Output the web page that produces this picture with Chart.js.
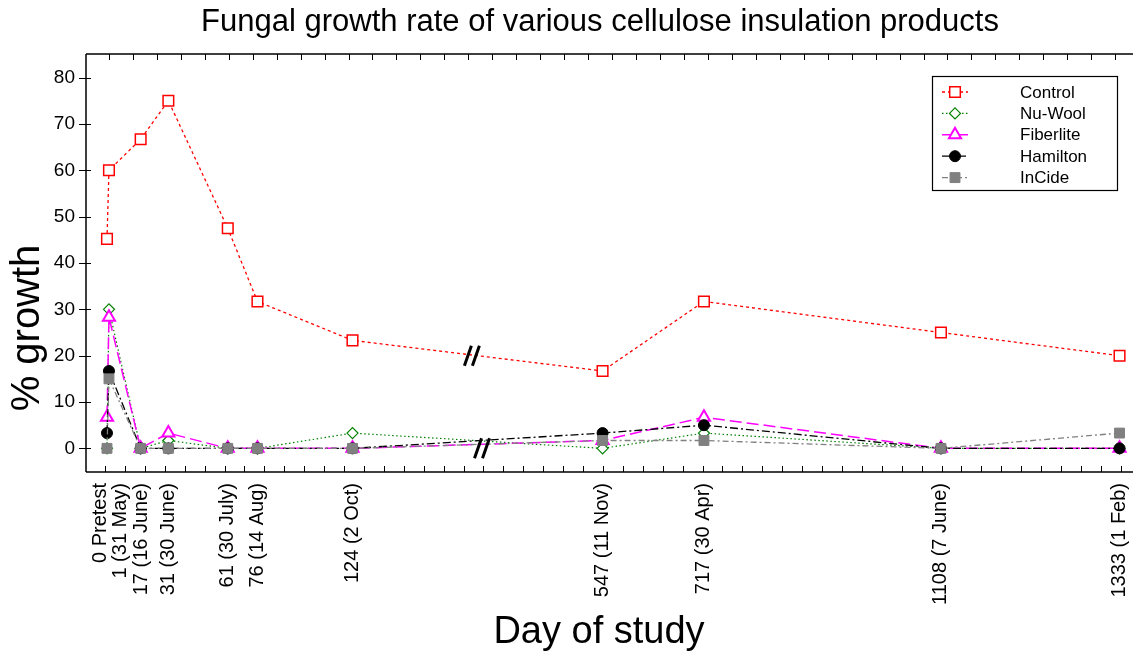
<!DOCTYPE html>
<html>
<head>
<meta charset="utf-8">
<script src="https://cdn.jsdelivr.net/npm/chart.js@4.4.1/dist/chart.umd.min.js"></script>
<style>
  body { margin: 0; background: #fff; }
  canvas { display: block; }
</style>
</head>
<body>
<canvas id="growthChart" width="1133" height="654"></canvas>
<script>
// Day of study labels
var dayLabels = ['0 Pretest', '1 (31 May)', '17 (16 June)', '31 (30 June)', '61 (30 July)', '76 (14 Aug)',
  '124 (2 Oct)', '547 (11 Nov)', '717 (30 Apr)', '1108 (7 June)', '1333 (1 Feb)'];
// where each day sits on the broken axis (true days up to 124, compressed after the break)
var dayPos = [0, 1, 17, 31, 61, 76, 124, 250.3, 301.5, 421.2, 511.4];
// label positions (the first two are pushed apart so they don't overlap)
var labelPos = [-3.5, 7, 17.6, 31, 61, 76, 124, 250.3, 301.5, 421.2, 511.4];
var yTicks = [0, 10, 20, 30, 40, 50, 60, 70, 80];

// % growth
var control = [45.2, 60, 66.7, 75, 47.5, 31.7, 23.3, 16.7, 31.7, 25, 20];
var nuWool = [0, 30, 0, 1.7, 0, 0, 3.3, 0, 3.3, 0, 0];
var fiberlite = [6.7, 28.3, 0, 3.3, 0, 0, 0, 1.7, 6.7, 0, 0];
var hamilton = [3.3, 16.7, 0, 0, 0, 0, 0, 3.3, 5, 0, 0];
var incide = [0, 15, 0, 0, 0, 0, 0, 1.7, 1.7, 0, 3.3];

// axis break marks (x on broken axis, y in %)
var breakX = [184.3, 189.4];
var breakY = [20, 0];

var FONT = '"Liberation Sans", Arial, Helvetica, sans-serif';

function toPoints(vals) {
  return dayPos.map(function (x, i) { return { x: x, y: vals[i] }; });
}

var decorPlugin = {
  id: 'decor',
  beforeDatasetsDraw: function (chart) {
    var ctx = chart.ctx, a = chart.chartArea;
    var xs = chart.scales.x, ys = chart.scales.y;
    ctx.save();
    ctx.strokeStyle = '#000';
    ctx.lineWidth = 1.5;
    ctx.beginPath();
    ctx.moveTo(a.left, a.top); ctx.lineTo(a.right, a.top);
    ctx.moveTo(a.left, a.top); ctx.lineTo(a.left, a.bottom);
    ctx.moveTo(a.left, a.bottom); ctx.lineTo(a.right, a.bottom);
    ctx.stroke();

    ctx.lineWidth = 1;
    ctx.beginPath();
    // minor ticks, bottom and top, pointing in
    for (var v = -1; v <= xs.max; v += 10.06) {
      var px = Math.round(xs.getPixelForValue(v)) + 0.5;
      ctx.moveTo(px, a.bottom); ctx.lineTo(px, a.bottom - 6);
    }
    for (var w = 1; w <= xs.max; w += 12.1) {
      var pt = Math.round(xs.getPixelForValue(w)) + 0.5;
      ctx.moveTo(pt, a.top); ctx.lineTo(pt, a.top + 6);
    }
    yTicks.forEach(function (t) {
      var py = Math.round(ys.getPixelForValue(t)) + 0.5;
      ctx.moveTo(a.left - 7, py); ctx.lineTo(a.left + 5, py);
    });
    ctx.stroke();
    ctx.restore();
  },
  afterDraw: function (chart) {
    var ctx = chart.ctx;
    var xs = chart.scales.x, ys = chart.scales.y;
    ctx.save();
    ctx.fillStyle = '#000';
    ctx.textBaseline = 'middle';
    ctx.textAlign = 'center';

    ctx.font = '31px ' + FONT;
    ctx.fillText('Fungal growth rate of various cellulose insulation products', 600, 22);

    ctx.font = '38px ' + FONT;
    ctx.fillText('Day of study', 599, 633);

    ctx.save();
    ctx.translate(28, 328);
    ctx.rotate(-Math.PI / 2);
    ctx.font = '40px ' + FONT;
    ctx.fillText('% growth', 0, 0);
    ctx.restore();

    // break marks
    ctx.strokeStyle = '#000';
    ctx.lineWidth = 3;
    ctx.beginPath();
    for (var i = 0; i < breakX.length; i++) {
      var bx = xs.getPixelForValue(breakX[i]);
      var by = ys.getPixelForValue(breakY[i]);
      [-4, 4].forEach(function (off) {
        ctx.moveTo(bx + off - 3.5, by + 10);
        ctx.lineTo(bx + off + 3.5, by - 10);
      });
    }
    ctx.stroke();

    // legend box
    var lx = 932, ly = 76;
    ctx.lineWidth = 1.2;
    ctx.strokeStyle = '#000';
    ctx.strokeRect(lx + 0.5, ly + 0.5, 185, 114);
    ctx.font = '17px ' + FONT;
    ctx.textAlign = 'left';
    chart.data.datasets.forEach(function (ds, k) {
      var ry = ly + 16 + k * 21.4;
      ctx.save();
      ctx.strokeStyle = ds.borderColor;
      ctx.lineWidth = ds.borderWidth;
      ctx.setLineDash(ds.borderDash);
      ctx.beginPath();
      ctx.moveTo(lx + 10, ry); ctx.lineTo(lx + 36, ry);
      ctx.stroke();
      ctx.setLineDash([]);
      ctx.fillStyle = ds.pointBackgroundColor;
      ctx.strokeStyle = ds.pointBorderColor;
      ctx.lineWidth = ds.pointBorderWidth;
      Chart.helpers.drawPoint(ctx, {
        pointStyle: ds.pointStyle, radius: ds.pointRadius,
        borderWidth: ds.pointBorderWidth, rotation: 0
      }, lx + 23, ry);
      ctx.restore();
      ctx.fillText(ds.label, lx + 88, ry + 1);
    });
    ctx.restore();
  }
};

new Chart(document.getElementById('growthChart'), {
  type: 'line',
  data: {
    datasets: [{
      label: 'Control',
      data: toPoints(control),
      borderColor: '#ff0000',
      borderWidth: 1.3,
      borderDash: [3, 3],
      pointStyle: 'rect',
      pointRadius: 7.5,
      pointBorderWidth: 1.5,
      pointBorderColor: '#ff0000',
      pointBackgroundColor: '#ffffff',
      order: 5
    }, {
      label: 'Nu-Wool',
      data: toPoints(nuWool),
      borderColor: '#008000',
      borderWidth: 1.2,
      borderDash: [1.5, 2.5],
      pointStyle: 'rectRot',
      pointRadius: 5.5,
      pointBorderWidth: 1.2,
      pointBorderColor: '#008000',
      pointBackgroundColor: '#ffffff',
      order: 4
    }, {
      label: 'Fiberlite',
      data: toPoints(fiberlite),
      borderColor: '#ff00ff',
      borderWidth: 1.5,
      borderDash: [12, 5],
      pointStyle: 'triangle',
      pointRadius: 7,
      pointBorderWidth: 2,
      pointBorderColor: '#ff00ff',
      pointBackgroundColor: '#ffffff',
      order: 3
    }, {
      label: 'Hamilton',
      data: toPoints(hamilton),
      borderColor: '#000000',
      borderWidth: 1.3,
      borderDash: [8, 3, 2, 3],
      pointStyle: 'circle',
      pointRadius: 5.5,
      pointBorderWidth: 1,
      pointBorderColor: '#000000',
      pointBackgroundColor: '#000000',
      order: 2
    }, {
      label: 'InCide',
      data: toPoints(incide),
      borderColor: '#808080',
      borderWidth: 1.3,
      borderDash: [6, 3, 2, 3],
      pointStyle: 'rect',
      pointRadius: 7,
      pointBorderWidth: 1,
      pointBorderColor: '#808080',
      pointBackgroundColor: '#808080',
      order: 1
    }]
  },
  options: {
    responsive: false,
    animation: false,
    devicePixelRatio: 1,
    events: [],
    layout: { autoPadding: false, padding: { top: 54, left: 0, right: 0, bottom: 0 } },
    plugins: {
      legend: { display: false },
      title: { display: false },
      tooltip: { enabled: false }
    },
    scales: {
      x: {
        type: 'linear',
        min: -10.6,
        max: 518.2,
        grid: { display: false },
        border: { display: false },
        afterBuildTicks: function (s) {
          s.ticks = labelPos.map(function (v) { return { value: v }; });
        },
        afterFit: function (s) {
          s.height = 182;
          s.paddingLeft = 0;
          s.paddingRight = 0;
        },
        ticks: {
          autoSkip: false,
          minRotation: 90,
          maxRotation: 90,
          padding: 3,
          color: '#000',
          font: { family: FONT, size: 20 },
          callback: function (v, i) { return dayLabels[i]; }
        }
      },
      y: {
        min: -5.1,
        max: 85.1,
        grid: { display: false },
        border: { display: false },
        afterBuildTicks: function (s) {
          s.ticks = yTicks.map(function (v) { return { value: v }; });
        },
        afterFit: function (s) {
          s.width = 86;
          s.paddingTop = 0;
          s.paddingBottom = 0;
        },
        ticks: {
          padding: 3,
          color: '#000',
          font: { family: FONT, size: 19 }
        }
      }
    }
  },
  plugins: [decorPlugin]
});
</script>
</body>
</html>
